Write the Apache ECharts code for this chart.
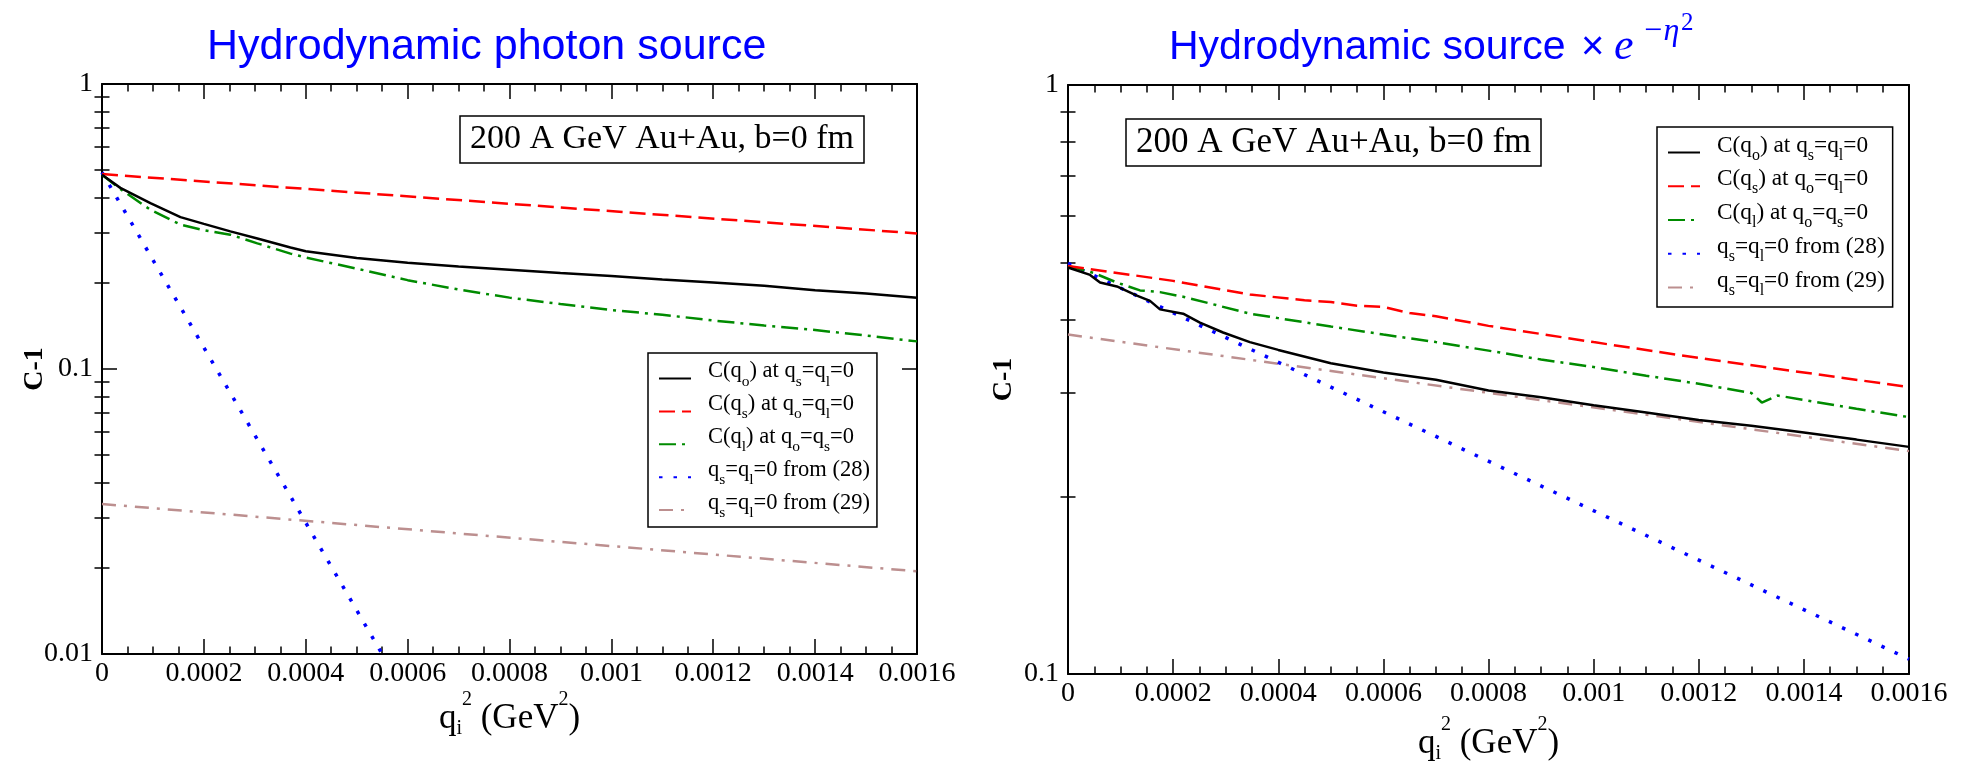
<!DOCTYPE html>
<html>
<head>
<meta charset="utf-8">
<script src="https://cdn.jsdelivr.net/npm/echarts@6/dist/echarts.min.js"></script>
<style>
html, body { margin: 0; padding: 0; background: #fff; }
#main { width: 1976px; height: 762px; }
</style>
</head>
<body>
<div id="main"></div>
<script>
// ---- left panel: hydrodynamic photon source ----
var leftBlackQ2 = [0, 0.000036, 0.000095, 0.000154, 0.0002, 0.000252, 0.000305, 0.00037, 0.0004, 0.0005, 0.0006, 0.0007, 0.0008, 0.0009, 0.001, 0.0011, 0.0012, 0.0013, 0.0014, 0.0015, 0.0016];
var leftBlackC  = [0.48, 0.432, 0.382, 0.341, 0.323, 0.304, 0.287, 0.267, 0.259, 0.245, 0.236, 0.229, 0.223, 0.217, 0.212, 0.206, 0.201, 0.196, 0.189, 0.184, 0.178];
var leftRedQ2   = [0, 0.0008, 0.0016];
var leftRedC    = [0.483, 0.38, 0.299];
var leftGreenQ2 = [0, 0.000036, 0.000095, 0.000154, 0.0002, 0.000252, 0.000305, 0.00037, 0.0004, 0.0005, 0.0006, 0.0007, 0.0008, 0.0009, 0.001, 0.0011, 0.0012, 0.0013, 0.0014, 0.0015, 0.0016];
var leftGreenC  = [0.48, 0.428, 0.362, 0.321, 0.307, 0.296, 0.276, 0.254, 0.246, 0.225, 0.205, 0.19, 0.178, 0.169, 0.161, 0.155, 0.148, 0.142, 0.137, 0.131, 0.125];
var leftBlueQ2  = [0, 0.00055];
var leftBlueC   = [0.49, 0.01];
var leftBrownQ2 = [0, 0.0016];
var leftBrownC  = [0.0336, 0.0195];

// ---- right panel: hydrodynamic source x exp(-eta^2) ----
var rightBlackQ2 = [0, 0.000042, 0.000061, 0.000093, 0.000131, 0.000156, 0.000175, 0.000219, 0.000251, 0.000295, 0.000346, 0.0004, 0.0005, 0.0006, 0.0007, 0.0008, 0.0009, 0.001, 0.0011, 0.0012, 0.0013, 0.0014, 0.0015, 0.0016];
var rightBlackC  = [0.49, 0.476, 0.462, 0.455, 0.439, 0.43, 0.416, 0.409, 0.395, 0.38, 0.366, 0.355, 0.337, 0.325, 0.316, 0.303, 0.295, 0.286, 0.278, 0.27, 0.264, 0.257, 0.25, 0.243];
var rightRedQ2   = [0, 0.0002, 0.000346, 0.00045, 0.0005, 0.00055, 0.0006, 0.00065, 0.0007, 0.0008, 0.001, 0.0012, 0.0014, 0.0016];
var rightRedC    = [0.493, 0.465, 0.441, 0.431, 0.428, 0.422, 0.42, 0.41, 0.405, 0.39, 0.366, 0.344, 0.325, 0.307];
var rightGreenQ2 = [0, 0.000048, 0.000093, 0.000137, 0.000175, 0.000219, 0.000282, 0.000346, 0.0004, 0.0005, 0.0006, 0.0007, 0.0008, 0.0009, 0.001, 0.0011, 0.0012, 0.0013, 0.00132, 0.00135, 0.0014, 0.0015, 0.0016];
var rightGreenC  = [0.493, 0.48, 0.462, 0.448, 0.445, 0.437, 0.423, 0.409, 0.402, 0.389, 0.377, 0.366, 0.354, 0.342, 0.332, 0.321, 0.311, 0.3, 0.289, 0.297, 0.292, 0.282, 0.273];
var rightBlueQ2  = [0, 0.0016];
var rightBlueC   = [0.498, 0.106];
var rightBrownQ2 = [0, 0.0016];
var rightBrownC  = [0.377, 0.239];

// tick values for the log axes
var leftMajorTicks  = [0.01, 0.1, 1];
var leftMinorTicks  = [0.02, 0.03, 0.04, 0.05, 0.06, 0.07, 0.08, 0.09, 0.2, 0.3, 0.4, 0.5, 0.6, 0.7, 0.8, 0.9];
var rightMajorTicks = [0.1, 1];
var rightMinorTicks = [0.2, 0.3, 0.4, 0.5, 0.6, 0.7, 0.8, 0.9];

var seriesNames = ['C(qo) at qs=ql=0', 'C(qs) at qo=ql=0', 'C(ql) at qo=qs=0', 'qs=ql=0 from (28)', 'qs=ql=0 from (29)'];
var legendText = {
	'C(qo) at qs=ql=0': '{g| }{m|C(q}{s|o}{m|) at q}{s|s}{m|=q}{s|l}{m|=0}',
	'C(qs) at qo=ql=0': '{g| }{m|C(q}{s|s}{m|) at q}{s|o}{m|=q}{s|l}{m|=0}',
	'C(ql) at qo=qs=0': '{g| }{m|C(q}{s|l}{m|) at q}{s|o}{m|=q}{s|s}{m|=0}',
	'qs=ql=0 from (28)': '{g| }{m|q}{s|s}{m|=q}{s|l}{m|=0 from (28)}',
	'qs=ql=0 from (29)': '{g| }{m|q}{s|s}{m|=q}{s|l}{m|=0 from (29)}'
};

var lineColors = ['#000000', '#ff0000', '#008b00', '#0000ff', '#bc8f8f'];
var lineTypes = ['solid', [16, 7], [17, 6, 3, 6], [3.5, 11], [14, 8, 3, 8]];
var lineWidths = [2.5, 2.5, 2.5, 3.5, 2.5];

function pairs(xs, ys) {
	var out = [];
	for (var i = 0; i < xs.length; i++) out.push([xs[i], ys[i]]);
	return out;
}

var serif = 'Liberation Serif';
var sans = 'Liberation Sans';
var blue = '#0000ff';

function tickText(v) {
	return '{t|' + String(+Number(v).toPrecision(6)) + '}';
}
var tickRich = { t: { fontFamily: serif, fontSize: 28, lineHeight: 28, color: '#000' } };

function makeXAxes(g, gap) {
	var base = {
		type: 'value', gridIndex: g, min: 0, max: 0.0016, interval: 0.0002,
		axisLine: { show: true, onZero: false, lineStyle: { color: '#000', width: 2 } },
		axisTick: { show: true, inside: true, length: 15, lineStyle: { color: '#000', width: 1.5 } },
		minorTick: { show: true, splitNumber: 4, length: 7.5, lineStyle: { color: '#000', width: 1.5 } },
		splitLine: { show: false }, minorSplitLine: { show: false }
	};
	var bottom = {
		position: 'bottom',
		axisLabel: { show: true, margin: 6, fontSize: 28, fontFamily: serif, color: '#000', formatter: tickText, rich: tickRich, showMinLabel: true, showMaxLabel: true },
		name: '{m|q}{s|i}{p|2}{m| (GeV}{p|2}{m|)}',
		nameLocation: 'middle', nameGap: gap, nameMoveOverlap: false,
		nameTextStyle: {
			rich: {
				m: { fontFamily: serif, fontSize: 35, lineHeight: 35, color: '#000', verticalAlign: 'bottom', padding: [0, 0, 3, 0] },
				s: { fontFamily: serif, fontSize: 20, lineHeight: 20, color: '#000', verticalAlign: 'bottom' },
				p: { fontFamily: serif, fontSize: 20, lineHeight: 20, color: '#000', verticalAlign: 'bottom', padding: [0, 0, 29, 0] }
			}
		}
	};
	var top = { position: 'top', axisLabel: { show: false } };
	for (var k in base) { bottom[k] = base[k]; top[k] = base[k]; }
	return [bottom, top];
}

function makeYAxes(g, lo, major, minor, gap) {
	var line = { show: true, onZero: false, lineStyle: { color: '#000', width: 2 } };
	function ax(pos, isMajor, withLabel) {
		var a = {
			type: 'log', logBase: 10, gridIndex: g, min: lo, max: 1, position: pos,
			axisLine: isMajor ? line : { show: false },
			axisTick: { show: true, inside: true, length: isMajor ? 15 : 7.5, customValues: isMajor ? major : minor, lineStyle: { color: '#000', width: 1.5 } },
			axisLabel: withLabel ? { show: true, margin: 9, fontSize: 28, fontFamily: serif, color: '#000', formatter: tickText, rich: tickRich, customValues: major } : { show: false },
			splitLine: { show: false }
		};
		if (withLabel) {
			a.name = 'C-1';
			a.nameLocation = 'middle';
			a.nameGap = gap;
			a.nameMoveOverlap = false;
			a.nameTextStyle = { fontFamily: serif, fontSize: 28, fontWeight: 'bold', color: '#000' };
		}
		return a;
	}
	return [ax('left', true, true), ax('left', false, false), ax('right', true, false), ax('right', false, false)];
}

function makeSeries(panel, xIdx, yIdx) {
	return panel.map(function (p, i) {
		return {
			name: seriesNames[i], type: 'line', xAxisIndex: xIdx, yAxisIndex: yIdx,
			data: pairs(p[0], p[1]), showSymbol: false, symbol: 'none', clip: true,
			color: lineColors[i],
			lineStyle: { color: lineColors[i], width: lineWidths[i], type: lineTypes[i], cap: 'butt' },
			emphasis: { disabled: true }, z: 10 - i
		};
	});
}

var leftPanel = [[leftBlackQ2, leftBlackC], [leftRedQ2, leftRedC], [leftGreenQ2, leftGreenC], [leftBlueQ2, leftBlueC], [leftBrownQ2, leftBrownC]];
var rightPanel = [[rightBlackQ2, rightBlackC], [rightRedQ2, rightRedC], [rightGreenQ2, rightGreenC], [rightBlueQ2, rightBlueC], [rightBrownQ2, rightBrownC]];

function makeLegend(left, top, gap, pad, fs, ss) {
	return {
		left: left, top: top, orient: 'vertical', data: seriesNames, selectedMode: false,
		itemWidth: 32, itemHeight: 14, itemGap: gap, padding: pad,
		borderColor: '#000', borderWidth: 1.5, backgroundColor: '#fff',
		itemStyle: { opacity: 0 },
		formatter: function (n) { return legendText[n]; },
		textStyle: {
			rich: {
				g: { width: 12, fontSize: 10 },
				m: { fontFamily: serif, fontSize: fs, lineHeight: 22, color: '#000', verticalAlign: 'bottom', padding: [0, 0, 6.5, 0] },
				s: { fontFamily: serif, fontSize: ss, lineHeight: 16, color: '#000', verticalAlign: 'bottom' }
			}
		}
	};
}

var boxTitle = function (left, top, fs) {
	return {
		text: '200 A GeV Au+Au, b=0 fm', left: left, top: top,
		borderColor: '#000', borderWidth: 1.5, padding: [5, 10, 5, 10],
		textStyle: { fontFamily: serif, fontSize: fs, lineHeight: 37, fontWeight: 'normal', color: '#000' }
	};
};

// plain title piece
function piece(text, left, top, family, size, italic) {
	return {
		text: text, left: left, top: top, padding: 0,
		textStyle: { fontFamily: family, fontSize: size, fontWeight: 'normal', fontStyle: italic ? 'italic' : 'normal', color: blue }
	};
}

var chart = echarts.init(document.getElementById('main'), null, { renderer: 'canvas' });
var option = {
	animation: false,
	backgroundColor: '#fff',
	textStyle: { fontFamily: serif },
	title: [
		piece('Hydrodynamic photon source', 207, 26, sans, 43, false),
		piece('Hydrodynamic source', 1169, 27, sans, 41, false),
		piece('×', 1581, 28, sans, 40, false),
		piece('e', 1614, 25, serif, 44, true),
		piece('−η', 1642, 16, serif, 32, true),
		piece('2', 1681, 11, serif, 25, false),
		boxTitle(460, 116, 34),
		boxTitle(1126, 119, 35)
	],
	legend: [
		makeLegend(648, 353, 3.4, [7, 7, 6, 10], 22.5, 15.5),
		makeLegend(1657, 127, 4.25, [7, 8, 8.5, 10], 23.3, 16)
	],
	grid: [
		{ left: 102, top: 84, width: 815, height: 570, outerBoundsMode: 'none' },
		{ left: 1068, top: 85, width: 841, height: 589, outerBoundsMode: 'none' }
	],
	xAxis: makeXAxes(0, 50).concat(makeXAxes(1, 55)),
	yAxis: makeYAxes(0, 0.01, leftMajorTicks, leftMinorTicks, 53).concat(makeYAxes(1, 0.1, rightMajorTicks, rightMinorTicks, 50)),
	series: makeSeries(leftPanel, 0, 0).concat(makeSeries(rightPanel, 2, 4))
};

if (option && typeof option === 'object') {
	chart.setOption(option, true);
}
</script>
</body>
</html>
